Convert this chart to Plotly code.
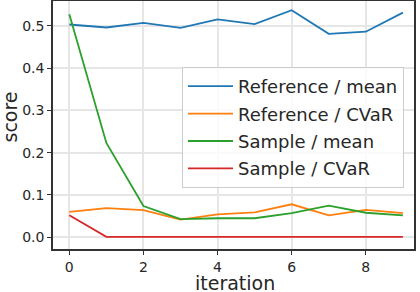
import plotly.graph_objects as go

iterations = [0, 1, 2, 3, 4, 5, 6, 7, 8, 9]
ref_mean = [0.503, 0.496, 0.507, 0.495, 0.515, 0.504, 0.537, 0.481, 0.486, 0.531]
ref_cvar = [0.060, 0.069, 0.064, 0.042, 0.054, 0.059, 0.078, 0.052, 0.065, 0.057]
sample_mean = [0.527, 0.223, 0.074, 0.043, 0.045, 0.045, 0.057, 0.075, 0.058, 0.052]
sample_cvar = [0.052, 0.001, 0.001, 0.001, 0.001, 0.001, 0.001, 0.001, 0.001, 0.001]

series = [
    ("Reference / mean", ref_mean, "#1f77b4"),
    ("Reference / CVaR", ref_cvar, "#ff7f0e"),
    ("Sample / mean", sample_mean, "#2ca02c"),
    ("Sample / CVaR", sample_cvar, "#d62728"),
]

W, H = 420, 292
ML, MR, MT, MB = 53, 6, 1, 43
PW, PH = W - ML - MR, H - MT - MB

fig = go.Figure()
for i, (name, vals, col) in enumerate(series):
    fig.add_trace(go.Scatter(x=iterations, y=vals, mode="lines", name=name,
                             legendgroup=f"g{i}",
                             line=dict(color=col, width=1.8)))

axis_common = dict(
    showline=True, mirror=True, linecolor="#333333", linewidth=1.5,
    ticks="outside", ticklen=4, tickwidth=1, tickcolor="#333333",
    showgrid=True, gridcolor="#e6e6e6", gridwidth=1.5, zeroline=False,
    automargin=False,
    tickfont=dict(family="DejaVu Sans", size=14, color="#262626"),
)

fig.update_layout(
    width=W, height=H,
    margin=dict(l=ML, r=MR, t=MT, b=MB),
    paper_bgcolor="white", plot_bgcolor="white",
    font=dict(family="DejaVu Sans", color="#262626"),
    xaxis=dict(range=[-0.44, 9.30], tickmode="linear", tick0=0, dtick=2, **axis_common),
    yaxis=dict(range=[-0.0277, 0.5586], tickmode="linear", tick0=0, dtick=0.1,
               tickformat=".1f", **axis_common),
    legend=dict(x=(182 - ML) / PW, y=(H - MB - 67) / PH, xanchor="left", yanchor="top",
                bgcolor="rgba(255,255,255,0.8)", bordercolor="#cccccc", borderwidth=1,
                font=dict(family="DejaVu Sans", size=18, color="#262626"),
                itemwidth=45, tracegroupgap=1),
    showlegend=True,
    annotations=[
        dict(text="iteration", xref="paper", yref="paper",
             x=(235 - ML) / PW, y=(H - MB - 283) / PH, xanchor="center", yanchor="middle",
             showarrow=False, font=dict(family="DejaVu Sans", size=19, color="#262626")),
        dict(text="score", xref="paper", yref="paper", textangle=-90,
             x=(9 - ML) / PW, y=(H - MB - 117.5) / PH, xanchor="center", yanchor="middle",
             showarrow=False, font=dict(family="DejaVu Sans", size=19, color="#262626")),
    ],
)

fig.write_html("out.html", config={"displayModeBar": False},
               post_script="document.body.style.margin='0';document.body.style.padding='0';")
